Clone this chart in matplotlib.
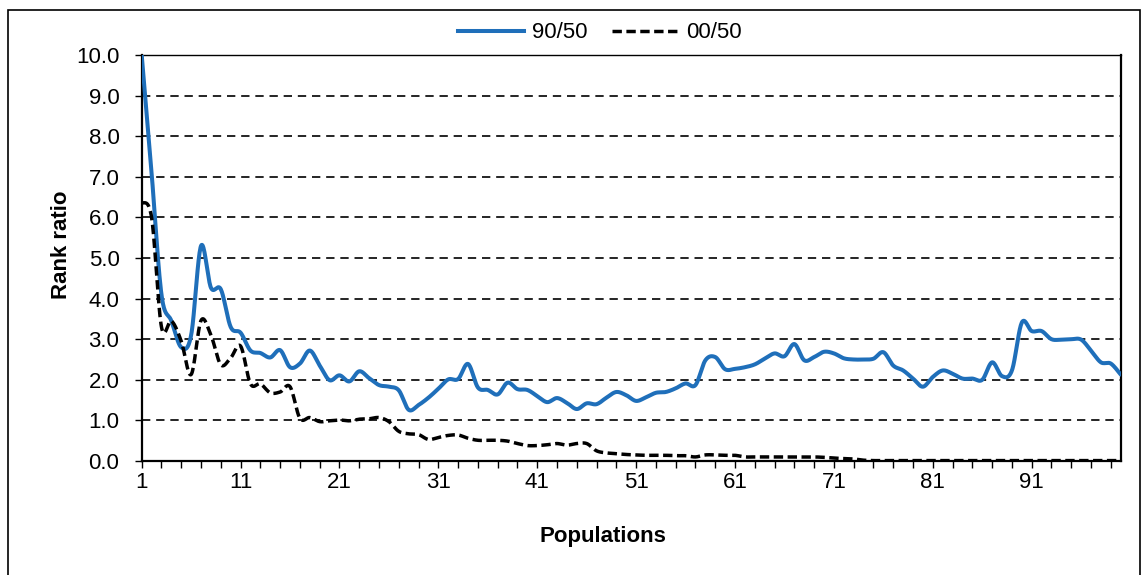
import numpy as np
import matplotlib
matplotlib.use("Agg")
import matplotlib.pyplot as plt
from matplotlib.patches import Rectangle
from matplotlib.lines import Line2D

plt.rcParams['font.family'] = ['Liberation Sans', 'DejaVu Sans']

populations = np.arange(1, 101)

# rank ratio 90/50 per population
ratio_90_50 = [
    10.0, 7.1, 4.1, 3.45, 2.8, 3.1, 5.3, 4.27, 4.23, 3.3,
    3.16, 2.72, 2.66, 2.55, 2.73, 2.31, 2.4, 2.72, 2.35, 1.99,
    2.11, 1.96, 2.21, 2.04, 1.87, 1.83, 1.74, 1.26, 1.38, 1.56,
    1.78, 2.01, 2.02, 2.39, 1.81, 1.75, 1.64, 1.93, 1.77, 1.75,
    1.6, 1.45, 1.55, 1.43, 1.28, 1.42, 1.4, 1.56, 1.7, 1.62,
    1.48, 1.57, 1.68, 1.7, 1.79, 1.91, 1.87, 2.48, 2.56, 2.26,
    2.27, 2.31, 2.38, 2.52, 2.65, 2.58, 2.88, 2.48, 2.56, 2.69,
    2.65, 2.53, 2.5, 2.5, 2.52, 2.68, 2.35, 2.23, 2.03, 1.83,
    2.07, 2.23, 2.15, 2.03, 2.03, 2.0, 2.43, 2.09, 2.23, 3.41,
    3.2, 3.2, 3.0, 2.99, 3.0, 2.99, 2.72, 2.43, 2.4, 2.13,
]

# rank ratio 00/50 per population
ratio_00_50 = [
    6.37, 6.0, 3.3, 3.45, 2.95, 2.13, 3.46, 3.1, 2.37, 2.54,
    2.83, 1.9, 1.9, 1.68, 1.7, 1.83, 1.05, 1.07, 0.97, 0.99,
    1.01, 0.99, 1.03, 1.04, 1.07, 0.97, 0.73, 0.67, 0.65, 0.53,
    0.58, 0.63, 0.64, 0.56, 0.51, 0.51, 0.51, 0.49, 0.43, 0.38,
    0.38, 0.4, 0.43, 0.39, 0.43, 0.43, 0.25, 0.2, 0.18, 0.16,
    0.15, 0.14, 0.14, 0.14, 0.13, 0.13, 0.1, 0.15, 0.15, 0.14,
    0.14, 0.1, 0.1, 0.1, 0.1, 0.1, 0.1, 0.1, 0.1, 0.09,
    0.07, 0.06, 0.05, 0.02, 0.01, 0.01, 0.01, 0.01, 0.01, 0.01,
    0.01, 0.01, 0.01, 0.01, 0.01, 0.01, 0.01, 0.01, 0.01, 0.01,
    0.01, 0.01, 0.01, 0.01, 0.01, 0.01, 0.01, 0.01, 0.01, 0.01,
]


def smooth(x, y, n=20):
    # Catmull-Rom curve through the points, like a smoothed Excel line
    x = np.asarray(x, float)
    y = np.asarray(y, float)
    px = np.concatenate([[x[0]], x, [x[-1]]])
    py = np.concatenate([[y[0]], y, [y[-1]]])
    t = np.linspace(0, 1, n, endpoint=False)[:, None]
    out = []
    for p in (px, py):
        p0, p1, p2, p3 = p[:-3], p[1:-2], p[2:-1], p[3:]
        seg = 0.5 * (2 * p1 + (-p0 + p2) * t
                     + (2 * p0 - 5 * p1 + 4 * p2 - p3) * t ** 2
                     + (-p0 + 3 * p1 - 3 * p2 + p3) * t ** 3)
        out.append(np.concatenate([seg.T.ravel(), [p[-2]]]))
    return out


W, H = 1142, 575
fig = plt.figure(figsize=(W / 100, H / 100), dpi=100)
ax = fig.add_axes([141.7 / W, 1 - 461 / H, (1120.7 - 141.7) / W, (461 - 55) / H])

sx, sy = smooth(populations, ratio_90_50)
ax.plot(sx, sy, color='#1f6fba', lw=2.9, solid_capstyle='round', zorder=3)
sx, sy = smooth(populations, ratio_00_50)
ax.plot(sx, sy, color='black', lw=2.5, dashes=(2.7, 1.3), zorder=3)

ax.set_xlim(1, 100)
ax.set_ylim(0, 10)

ax.set_yticks(np.arange(0, 11, 1))
ax.set_yticklabels([f"{v:.1f}" for v in range(11)])
xt = np.arange(1, 101, 2)
ax.set_xticks(xt)
ax.set_xticklabels([str(v) if (v - 1) % 10 == 0 else "" for v in xt])
ax.tick_params(axis='y', direction='out', length=5, width=1, labelsize=16, pad=11)
ax.tick_params(axis='x', direction='out', length=5, width=1, labelsize=16, pad=3)

ax.yaxis.grid(True, color='black', lw=1.2, dashes=(5, 3.5))
ax.set_axisbelow(True)
for side in ('left', 'bottom', 'right'):
    ax.spines[side].set_linewidth(1.6)
ax.spines['top'].set_linewidth(1.0)

ax.set_xlabel("Populations", fontsize=16, fontweight='bold')
ax.set_ylabel("Rank ratio", fontsize=16, fontweight='bold')
ax.xaxis.set_label_coords(0.471, -0.16)
ax.yaxis.set_label_coords(-0.0715, 0.532)

handles = [Line2D([], [], color='#1f6fba', lw=2.9),
           Line2D([], [], color='black', lw=2.5, dashes=(2.7, 1.3))]
fig.legend(handles, ["90/50", "00/50"], loc='center', ncol=2, frameon=False,
           bbox_to_anchor=(600 / W, 1 - 33 / H), fontsize=16,
           handlelength=3.0, handletextpad=0.35, columnspacing=1.1)

# outer chart frame
fig.patches.append(Rectangle((8 / W, -0.05), (1140 - 8) / W, 1.05 - 10 / H,
                             transform=fig.transFigure, fill=False,
                             edgecolor='black', lw=1.2))

fig.savefig("out.png", dpi=100)
